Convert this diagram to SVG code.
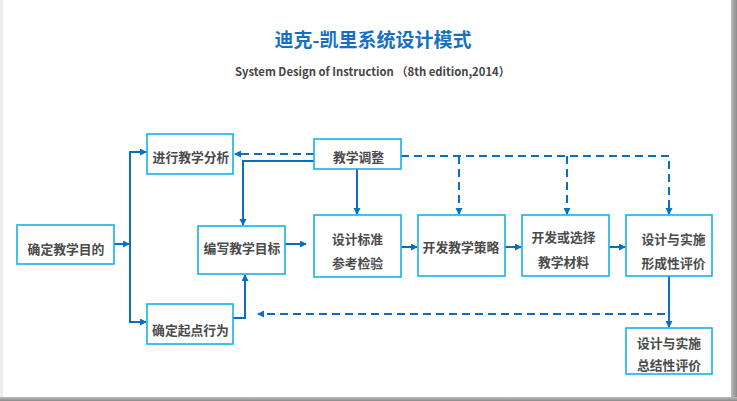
<svg xmlns="http://www.w3.org/2000/svg" width="737" height="401" viewBox="0 0 737 401">
<style>
.box{fill:#fff;stroke:#14b1ec;stroke-width:1.6}
.t{font-family:"Noto Sans CJK SC","Microsoft YaHei",sans-serif;font-weight:bold;font-size:12.8px;fill:#4a4a4a;text-anchor:middle}
.c{fill:none;stroke:#0a6fc2;stroke-width:2}
.d{fill:none;stroke:#0a6fc2;stroke-width:2;stroke-dasharray:8 5}
</style>
<defs>
<marker id="ah" markerUnits="userSpaceOnUse" markerWidth="8" markerHeight="8" refX="6" refY="3.5" orient="auto-start-reverse">
<path d="M0,0 L7,3.5 L0,7 z" fill="#0a6fc2"/>
</marker>
<linearGradient id="sr" x1="0" x2="1" y1="0" y2="0"><stop offset="0" stop-color="#bdbdbd"/><stop offset="1" stop-color="#8a8a8a"/></linearGradient>
<linearGradient id="sb" x1="0" x2="0" y1="0" y2="1"><stop offset="0" stop-color="#bdbdbd"/><stop offset="1" stop-color="#8a8a8a"/></linearGradient>
</defs>
<rect x="0" y="0" width="737" height="401" fill="#fff"/>
<rect x="0" y="0" width="3" height="398" fill="#ececec"/>
<rect x="731" y="0" width="6" height="401" fill="url(#sr)"/>
<rect x="0" y="397" width="737" height="4" fill="url(#sb)"/>

<text x="373" y="47" font-family="'Noto Sans CJK SC','Microsoft YaHei',sans-serif" font-weight="bold" font-size="19" fill="#1570c4" text-anchor="middle">迪克-凯里系统设计模式</text>
<text x="372.5" y="76" font-family="'Noto Sans CJK SC','Microsoft YaHei',sans-serif" font-weight="bold" font-size="11.5" fill="#454545" text-anchor="middle" textLength="275" lengthAdjust="spacingAndGlyphs">System Design of Instruction （8th edition,2014）</text>

<g id="connectors">
<path class="c" d="M114,244 H129" marker-end="url(#ah)"/>
<path class="c" d="M146,152 H130 V322 H146" marker-start="url(#ah)" marker-end="url(#ah)"/>
<path class="c" d="M233,318 H245 V275" marker-end="url(#ah)"/>
<path class="d" d="M314,154 H235" marker-end="url(#ah)"/>
<path class="c" d="M314,161 H243 V225" marker-end="url(#ah)"/>
<path class="c" d="M357,169 V214" marker-end="url(#ah)"/>
<path class="d" d="M401,156 H669 V214" marker-end="url(#ah)"/>
<path class="d" d="M459,156 V214" marker-end="url(#ah)"/>
<path class="d" d="M567,156 V214" marker-end="url(#ah)"/>
<path class="c" d="M285,244 H306" marker-end="url(#ah)"/>
<path class="c" d="M401,247 H417" marker-end="url(#ah)"/>
<path class="c" d="M505,247 H521" marker-end="url(#ah)"/>
<path class="c" d="M609,247 H625" marker-end="url(#ah)"/>
<path class="c" d="M669,276 V327" marker-end="url(#ah)"/>
<path class="d" d="M665,314 H258" marker-end="url(#ah)"/>
</g>

<g id="n-mudi"><rect class="box" x="17" y="225" width="97" height="39"/><text class="t" x="66" y="254">确定教学目的</text></g>
<g id="n-fenxi"><rect class="box" x="147" y="134" width="86" height="40"/><text class="t" x="191" y="162">进行教学分析</text></g>
<g id="n-qidian"><rect class="box" x="147" y="304" width="86" height="40"/><text class="t" x="190.5" y="335">确定起点行为</text></g>
<g id="n-mubiao"><rect class="box" x="198" y="226" width="87" height="48"/><text class="t" x="242" y="253">编写教学目标</text></g>
<g id="n-tiaozheng"><rect class="box" x="314" y="139" width="87" height="30"/><text class="t" x="358.5" y="162">教学调整</text></g>
<g id="n-biaozhun"><rect class="box" x="314" y="215" width="87" height="62"/><text class="t" x="357.5" y="244">设计标准</text><text class="t" x="357.5" y="268">参考检验</text></g>
<g id="n-celue"><rect class="box" x="418" y="215" width="87" height="61"/><text class="t" x="461" y="252">开发教学策略</text></g>
<g id="n-cailiao"><rect class="box" x="522" y="215" width="87" height="61"/><text class="t" x="563.5" y="242">开发或选择</text><text class="t" x="563.5" y="267">教学材料</text></g>
<g id="n-xingcheng"><rect class="box" x="626" y="215" width="86" height="61"/><text class="t" x="673.5" y="244">设计与实施</text><text class="t" x="673.5" y="268">形成性评价</text></g>
<g id="n-zongjie"><rect class="box" x="626" y="328" width="86" height="46"/><text class="t" x="669" y="348">设计与实施</text><text class="t" x="669" y="370">总结性评价</text></g>
</svg>
